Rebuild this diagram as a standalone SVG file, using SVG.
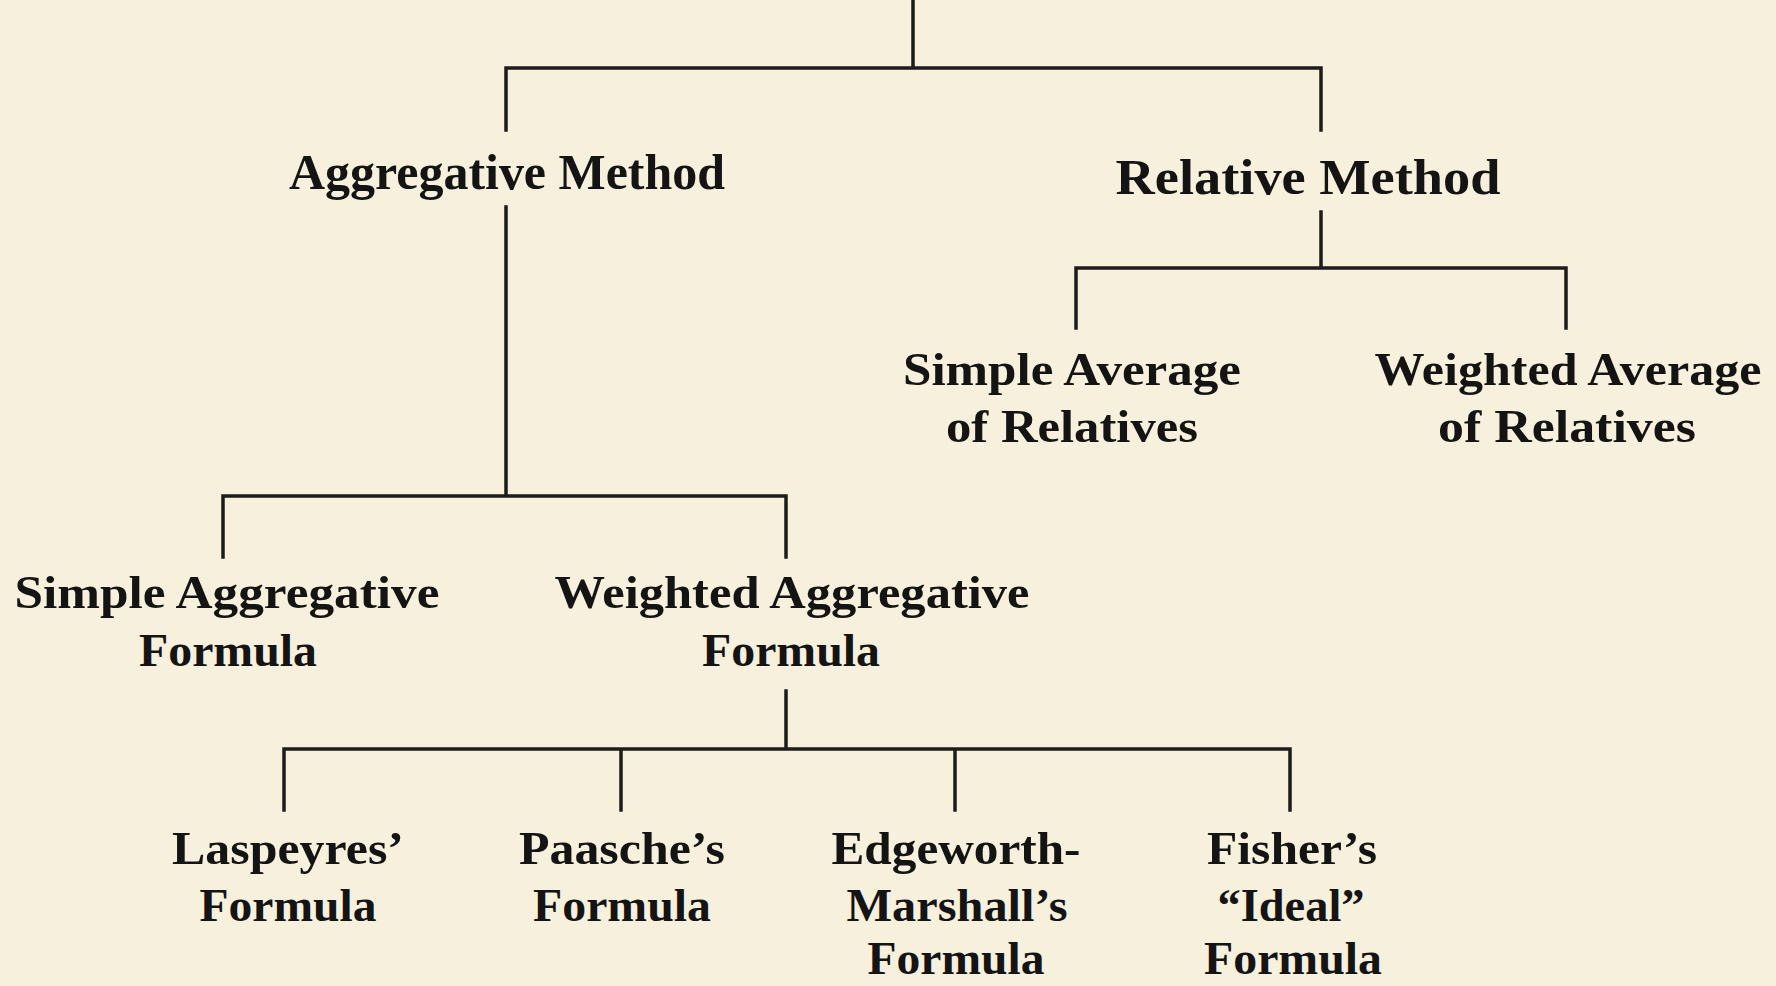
<svg xmlns="http://www.w3.org/2000/svg" width="1776" height="986" viewBox="0 0 1776 986">
<style>
.bg{fill:#f7f0dc}
.ln{stroke:#1c1c1c;stroke-width:3.5;fill:none;stroke-linecap:square}
.h{font-family:"Liberation Serif","Times New Roman",serif;font-weight:bold;font-size:50px;fill:#141414;text-anchor:middle}
.t{font-family:"Liberation Serif","Times New Roman",serif;font-weight:bold;font-size:47px;fill:#141414;text-anchor:middle}
</style>
<rect class="bg" x="0" y="0" width="1776" height="986"/>
<g id="connectors">
<path class="ln" d="M913 0V68M506 130V68H1321V130"/>
<path class="ln" d="M1321 212V268M1076 328V268H1566V328"/>
<path class="ln" d="M506 207V496M223 557V496H786V557"/>
<path class="ln" d="M786 691V749M284 810V749H1290V810M621 749V810M955 749V810"/>
</g>
<g id="aggregative"><text class="h" x="507" y="189" textLength="436" lengthAdjust="spacingAndGlyphs">Aggregative Method</text></g>
<g id="relative"><text class="h" x="1308" y="194" textLength="385" lengthAdjust="spacingAndGlyphs">Relative Method</text></g>
<g id="simple-avg">
<text class="t" x="1072" y="385" textLength="338" lengthAdjust="spacingAndGlyphs">Simple Average</text>
<text class="t" x="1072" y="442" textLength="252" lengthAdjust="spacingAndGlyphs">of Relatives</text>
</g>
<g id="weighted-avg">
<text class="t" x="1568" y="385" textLength="387" lengthAdjust="spacingAndGlyphs">Weighted Average</text>
<text class="t" x="1567" y="442" textLength="258" lengthAdjust="spacingAndGlyphs">of Relatives</text>
</g>
<g id="simple-agg">
<text class="t" x="227" y="608" textLength="425" lengthAdjust="spacingAndGlyphs">Simple Aggregative</text>
<text class="t" x="228" y="666" textLength="178" lengthAdjust="spacingAndGlyphs">Formula</text>
</g>
<g id="weighted-agg">
<text class="t" x="792" y="608" textLength="475" lengthAdjust="spacingAndGlyphs">Weighted Aggregative</text>
<text class="t" x="791" y="666" textLength="178" lengthAdjust="spacingAndGlyphs">Formula</text>
</g>
<g id="laspeyres">
<text class="t" x="288" y="864" textLength="232" lengthAdjust="spacingAndGlyphs">Laspeyres’</text>
<text class="t" x="288" y="921" textLength="177" lengthAdjust="spacingAndGlyphs">Formula</text>
</g>
<g id="paasche">
<text class="t" x="622" y="864" textLength="206" lengthAdjust="spacingAndGlyphs">Paasche’s</text>
<text class="t" x="622" y="921" textLength="178" lengthAdjust="spacingAndGlyphs">Formula</text>
</g>
<g id="edgeworth">
<text class="t" x="956" y="864" textLength="249" lengthAdjust="spacingAndGlyphs">Edgeworth-</text>
<text class="t" x="957" y="921" textLength="221" lengthAdjust="spacingAndGlyphs">Marshall’s</text>
<text class="t" x="956" y="974" textLength="177" lengthAdjust="spacingAndGlyphs">Formula</text>
</g>
<g id="fisher">
<text class="t" x="1292" y="864" textLength="170" lengthAdjust="spacingAndGlyphs">Fisher’s</text>
<text class="t" x="1291" y="921" textLength="147" lengthAdjust="spacingAndGlyphs">“Ideal”</text>
<text class="t" x="1293" y="974" textLength="178" lengthAdjust="spacingAndGlyphs">Formula</text>
</g>
</svg>
